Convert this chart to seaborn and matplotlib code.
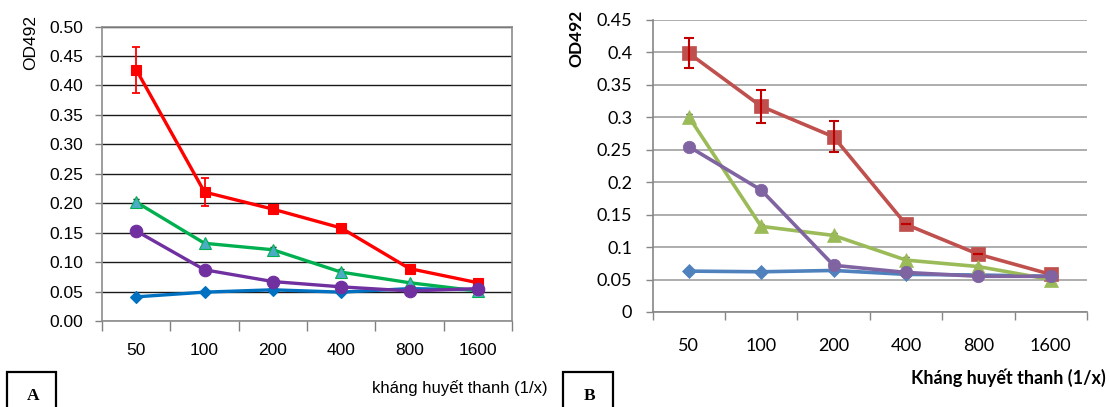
import numpy as np
import pandas as pd
import matplotlib
matplotlib.use("Agg")
import matplotlib.pyplot as plt
from matplotlib.patches import Rectangle
import seaborn as sns

# ---------------- data ----------------
dilutions = ["50", "100", "200", "400", "800", "1600"]

# Panel A
a_blue = [0.041, 0.049, 0.053, 0.049, 0.055, 0.053]
a_red = [0.427, 0.219, 0.190, 0.158, 0.089, 0.065]
a_red_err = [0.039, 0.024, 0.004, 0.006, 0.003, 0.002]
a_green = [0.202, 0.132, 0.121, 0.083, 0.065, 0.051]
a_green_err = [0.005, 0.003, 0.004, 0.005, 0.002, 0.002]
a_purple = [0.153, 0.087, 0.067, 0.058, 0.051, 0.055]

# Panel B
b_blue = [0.063, 0.062, 0.064, 0.058, 0.057, 0.055]
b_red = [0.399, 0.317, 0.270, 0.135, 0.089, 0.058]
b_red_err = [0.023, 0.025, 0.024, 0.0, 0.0, 0.0]
b_green = [0.301, 0.132, 0.118, 0.080, 0.070, 0.050]
b_green_err = [0.004, 0.004, 0.004, 0.004, 0.002, 0.002]
b_purple = [0.255, 0.188, 0.072, 0.061, 0.055, 0.055]

xlabel_a = "kháng huyết thanh (1/x)"
xlabel_b = "Kháng huyết thanh (1/x)"
ylabel = "OD492"

# ---------------- figure ----------------
sns.set_theme(style="white")
plt.rcParams["font.family"] = ["Liberation Sans", "DejaVu Sans"]

W, H = 1110, 407
fig = plt.figure(figsize=(W / 100, H / 100), dpi=100)
fig.patch.set_facecolor("white")

def ax_rect(l, r, t, b):
    return [l / W, (H - b) / H, (r - l) / W, (b - t) / H]

axA = fig.add_axes(ax_rect(102, 512, 26.6, 321))
axB = fig.add_axes(ax_rect(652.5, 1087, 20, 312))

pos = np.arange(len(dilutions))

# ---------- Panel A ----------
fontA = ["Liberation Sans", "DejaVu Sans"]
seriesA = [
    (a_blue, "#0070C0", "D", 6.0, "#0070C0"),
    (a_red, "#FF0000", "s", 6.5, "#FF0000"),
    (a_green, "#00B050", "^", 9.0, "#4BACC6"),
    (a_purple, "#7030A0", "o", 9.0, "#7030A0"),
]
for i, (vals, col, mk, ms, mfc) in enumerate(seriesA):
    df = pd.DataFrame({"x": pos, "y": vals})
    sns.lineplot(data=df, x="x", y="y", ax=axA, color=col, linewidth=2.4,
                 marker=mk, markersize=ms, markerfacecolor=mfc,
                 markeredgecolor=col, markeredgewidth=0.8, zorder=3 + i)
    if col == "#FF0000":
        axA.errorbar(pos, vals, yerr=a_red_err, fmt="none", ecolor="#FF0000",
                     elinewidth=1.3, capsize=3, capthick=1.3, zorder=3 + i)
    if col == "#00B050":
        axA.errorbar(pos, vals, yerr=a_green_err, fmt="none", ecolor="black",
                     elinewidth=1.0, capsize=2, capthick=1.0, zorder=2)

axA.set_xlim(-0.5, 5.5)
axA.set_ylim(0, 0.5)
axA.set_xticks(pos)
axA.set_xticklabels(dilutions, fontfamily=fontA, fontsize=12.5, color="black")
axA.set_xticks(np.arange(-0.5, 6.0, 1.0), minor=True)
yticksA = np.round(np.arange(0, 0.501, 0.05), 2)
axA.set_yticks(yticksA)
axA.set_yticklabels([f"{v:.2f}" for v in yticksA], fontfamily=fontA,
                    fontsize=12.5, color="black")
axA.tick_params(axis="x", which="major", length=0, pad=15.5)
axA.tick_params(axis="x", which="minor", length=7, width=1, color="#808080",
                direction="out", bottom=True)
axA.tick_params(axis="y", which="major", length=5, width=1, color="#808080",
                direction="out", left=True, pad=8.5)
axA.yaxis.grid(True, color="#1a1a1a", linewidth=1.0)
axA.xaxis.grid(False)
axA.set_axisbelow(True)
for s in axA.spines.values():
    s.set_visible(True)
    s.set_color("#8c8c8c")
    s.set_linewidth(1.2)
axA.set_xlabel("")
axA.set_ylabel("")

# ---------- Panel B ----------
fontB = ["Lato", "DejaVu Sans"]
seriesB = [
    (b_blue, "#4F81BD", "D", 7.5),
    (b_red, "#C0504D", "s", 10.0),
    (b_green, "#9BBB59", "^", 10.0),
    (b_purple, "#8064A2", "o", 9.0),
]
for i, (vals, col, mk, ms) in enumerate(seriesB):
    df = pd.DataFrame({"x": pos, "y": vals})
    sns.lineplot(data=df, x="x", y="y", ax=axB, color=col, linewidth=2.6,
                 marker=mk, markersize=ms, markerfacecolor=col,
                 markeredgecolor=col, markeredgewidth=0.5, zorder=3 + i)
    if col == "#C0504D":
        axB.errorbar(pos, vals, yerr=b_red_err, fmt="none", ecolor="#C00000",
                     elinewidth=1.5, capsize=3.5, capthick=1.5, zorder=3 + i)
    if col == "#9BBB59":
        axB.errorbar(pos, vals, yerr=b_green_err, fmt="none", ecolor="black",
                     elinewidth=1.0, capsize=2, capthick=1.0, zorder=2)

axB.set_xlim(-0.5, 5.5)
axB.set_ylim(0, 0.45)
axB.set_xticks(pos)
axB.set_xticklabels(dilutions, fontfamily=fontB, fontsize=13, color="black")
axB.set_xticks(np.arange(-0.5, 6.0, 1.0), minor=True)
yticksB = np.round(np.arange(0, 0.451, 0.05), 2)
axB.set_yticks(yticksB)
axB.set_yticklabels([f"{v:g}" for v in yticksB], fontfamily=fontB,
                    fontsize=13, color="black")
axB.tick_params(axis="x", which="major", length=0, pad=18.5)
axB.tick_params(axis="x", which="minor", length=6, width=1, color="#868686",
                direction="out", bottom=True)
axB.tick_params(axis="y", which="major", length=5, width=1, color="#868686",
                direction="out", left=True, pad=9.5)
axB.yaxis.grid(True, color="#a0a0a0", linewidth=1.2)
axB.xaxis.grid(False)
axB.set_axisbelow(True)
for k, s in axB.spines.items():
    s.set_color("#868686")
    s.set_linewidth(1.2)
    s.set_visible(k in ("left", "bottom"))
axB.set_xlabel("")
axB.set_ylabel("")

# ---------- texts ----------
def fy(py):
    return (H - py) / H

fig.text(30.5 / W, fy(43), ylabel, rotation=90, ha="center", va="center",
         fontsize=12.5, family=fontA, color="black")
fig.text(576 / W, fy(38.5), ylabel, rotation=90, ha="center", va="center",
         fontsize=12.5, family=fontB, fontweight="bold", color="black")

fig.text(372 / W, fy(393), xlabel_a, ha="left", va="baseline",
         fontsize=12, family=fontA, color="black")
fig.text(1106 / W, fy(384), xlabel_b, ha="right", va="baseline",
         fontsize=13, family=fontB, fontweight="bold", color="black")

# panel letter boxes
for (l, r, t, letter, cx) in [(7.3, 56, 372.3, "A", 33), (562.7, 612.7, 371.7, "B", 590)]:
    rect = Rectangle((l / W, fy(H + 5)), (r - l) / W, (H + 5 - t) / H,
                     transform=fig.transFigure, fill=False,
                     edgecolor="black", linewidth=1.6, clip_on=False)
    fig.patches.append(rect)
    fig.text(cx / W, fy(399.5), letter, ha="center", va="baseline",
             fontsize=12.5, family=["Liberation Serif", "DejaVu Serif"],
             fontweight="bold", color="black")

fig.savefig("out.png", dpi=100, facecolor="white")
